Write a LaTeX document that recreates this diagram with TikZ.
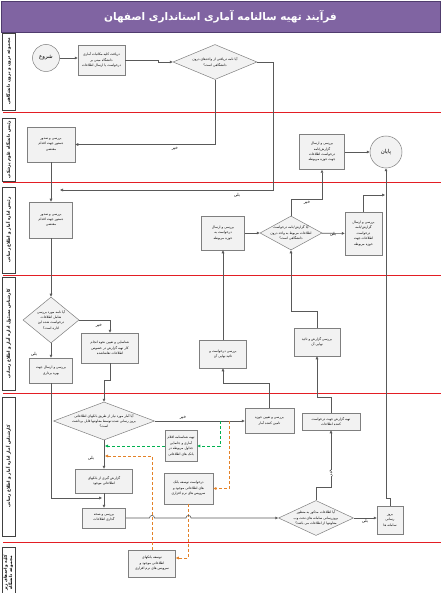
\documentclass[tikz,border=0pt]{standalone}
\usepackage{fontspec}
\newfontfamily\arabicfont[Script=Arabic]{DejaVu Sans}
\TeXXeTstate=1
\usetikzlibrary{arrows.meta,shapes.geometric,shadows,calc}
\newcommand\fatxt[1]{{\arabicfont\beginR #1\endR}}
\newcommand\boxfont{\fontsize{3.3}{5.4}\selectfont}
\newcommand\lblfont{\fontsize{4.2}{5}\selectfont}
\newcommand\lanefont{\fontsize{4.2}{5.2}\selectfont\bfseries}
\definecolor{titlepurple}{RGB}{128,100,162}
\definecolor{titleborder}{RGB}{80,60,110}
\definecolor{lanered}{RGB}{227,30,36}
\definecolor{linegray}{RGB}{89,89,89}
\definecolor{boxgray}{RGB}{127,127,127}
\definecolor{boxfill}{RGB}{242,242,242}
\definecolor{dashgreen}{RGB}{0,176,80}
\definecolor{dashorange}{RGB}{228,130,40}
\begin{document}
\begin{tikzpicture}[x=1pt,y=-1pt,
  procbox/.style 2 args={rectangle, draw=boxgray, fill=boxfill, line width=0.5pt,
     minimum width=#1pt, minimum height=#2pt, inner sep=0.5pt, align=center, font=\boxfont,
     drop shadow={shadow xshift=0.6pt,shadow yshift=-0.6pt,opacity=0.25}},
  decbox/.style 2 args={diamond, draw=boxgray, fill=boxfill, line width=0.5pt,
     minimum width=#1pt, minimum height=#2pt, inner sep=0pt},
  dectext/.style={align=center, font=\boxfont, inner sep=0pt},
  startend/.style={circle, draw=boxgray, fill=boxfill, line width=0.5pt, inner sep=0pt,
     font=\fontsize{5.5}{6}\selectfont},
  lanelab/.style={rectangle, draw=black!75, fill=white, line width=0.5pt, rotate=90,
     minimum height=13pt, inner sep=0pt, align=center, font=\lanefont},
  laneline/.style={draw=lanered, line width=1pt},
  flow/.style={draw=linegray, line width=0.6pt, -{Triangle[length=3pt,width=2.6pt]}},
  plainflow/.style={draw=linegray, line width=0.6pt},
  gflow/.style={draw=dashgreen, line width=0.7pt, dash pattern=on 3pt off 2pt,
     -{Triangle[length=3pt,width=2.6pt]}},
  oflow/.style={draw=dashorange, line width=0.7pt, dash pattern=on 3pt off 2pt,
     -{Triangle[length=3pt,width=2.6pt]}},
  lbl/.style={font=\lblfont, inner sep=0.3pt}
]
\useasboundingbox (0,0) rectangle (441,593);
\fill[white] (0,0) rectangle (441,593);

% title
\node[rectangle, fill=titlepurple, draw=titleborder, line width=0.8pt,
      minimum width=439pt, minimum height=31pt, inner sep=0pt,
      text=white, font=\fontsize{10.5}{12}\selectfont\bfseries] (title) at (220.5,16.5)
      {\fatxt{فرآیند تهیه سالنامه آماری استانداری اصفهان}};

% lane separators
\draw[laneline] (3,113) -- (441,113);
\draw[laneline] (3,183) -- (441,183);
\draw[laneline] (3,275) -- (441,275);
\draw[laneline] (3,393) -- (441,393);
\draw[laneline] (3,542) -- (441,542);

% lane labels
\node[lanelab, minimum width=77pt] (l1) at (8.5,71.5) {\fatxt{مجموعه درون و برون دانشگاهی}};
\node[lanelab, minimum width=63pt] (l2) at (8.5,149.5) {\fatxt{رئیس دانشگاه علوم پزشکی}};
\node[lanelab, minimum width=86pt] (l3) at (8.5,230) {\fatxt{رئیس اداره آمار و اطلاع رسانی}};
\node[lanelab, minimum width=113pt] (l4) at (8.5,333.5) {\fatxt{کارشناس مسئول اداره آمار و اطلاع رسانی}};
\node[lanelab, minimum width=139pt] (l5) at (8.5,466.5) {\fatxt{کارشناس آمار اداره آمار و اطلاع رسانی}};
\node[lanelab, minimum width=52pt] (l6) at (8.5,573) {\fatxt{کلیه واحدهای زیر}\\\fatxt{مجموعه دانشگاه}};

% lane 1
\node[startend, minimum size=27pt] (start) at (46,58) {\fatxt{شروع}};
\node[procbox={47}{30}] (b1) at (101.5,60) {\fatxt{دریافت کلیه مکاتبات آماری}\\\fatxt{دانشگاه مبنی بر}\\\fatxt{درخواست یا ارسال اطلاعات}};
\node[decbox={84}{35}] (d1) at (215,62) {};
\node[dectext] (d1t) at (d1) {\fatxt{آیا نامه دریافتی از واحدهای درون}\\\fatxt{دانشگاهی است؟}};

% lane 2
\node[procbox={48}{35}] (b2) at (51,144.5) {\fatxt{بررسی و صدور}\\\fatxt{دستور جهت اقدام}\\\fatxt{مقتضی}};
\node[procbox={45}{35}] (b3) at (322,152) {\fatxt{بررسی و ارسال}\\\fatxt{گزارش/نامه}\\\fatxt{درخواست اطلاعات}\\\fatxt{جهت حوزه مربوطه}};
\node[startend, minimum size=32pt] (end) at (386,152) {\fatxt{پایان}};

% lane 3
\node[procbox={43}{36}] (b4) at (51,220) {\fatxt{بررسی و صدور}\\\fatxt{دستور جهت اقدام}\\\fatxt{مقتضی}};
\node[procbox={43}{34}] (b5) at (223,233) {\fatxt{بررسی و ارسال}\\\fatxt{درخواست به}\\\fatxt{حوزه مربوطه}};
\node[decbox={62}{34}] (d2) at (291,233) {};
\node[dectext] (d2t) at (d2) {\fatxt{آیا گزارش/نامه درخواست}\\\fatxt{اطلاعات مربوط به واحد درون}\\\fatxt{دانشگاهی است؟}};
\node[procbox={37}{43}] (b6) at (363.5,233.5) {\fatxt{بررسی و ارسال}\\\fatxt{گزارش/نامه}\\\fatxt{درخواست}\\\fatxt{اطلاعات جهت}\\\fatxt{حوزه مربوطه}};

% lane 4
\node[decbox={56}{46}] (d3) at (51,320) {};
\node[dectext] (d3t) at (d3) {\fatxt{آیا نامه مورد بررسی}\\\fatxt{شامل اطلاعات}\\\fatxt{درخواست شده این}\\\fatxt{اداره است؟}};
\node[procbox={43}{25}] (b7) at (51,370.5) {\fatxt{بررسی و ارسال جهت}\\\fatxt{بهره برداری}};
\node[procbox={57}{30}] (b8) at (110,348) {\fatxt{شناسایی و تعیین نحوه انجام}\\\fatxt{کار تهیه گزارش در خصوص}\\\fatxt{اطلاعات تقاضاشده}};
\node[procbox={47}{28}] (b9) at (223,354) {\fatxt{بررسی درخواست و}\\\fatxt{تائید نهایی آن}};
\node[procbox={46}{28}] (b10) at (317,342) {\fatxt{بررسی گزارش و تائید}\\\fatxt{نهایی آن}};

% lane 5
\node[decbox={101}{38}] (d4) at (104,421) {};
\node[dectext] (d4t) at (d4) {\fatxt{آیا آمار مورد نیاز از طریق بانکهای اطلاعاتی}\\\fatxt{بروز رسانی شده توسط معاونتها قابل برداشت}\\\fatxt{است؟}};
\node[procbox={49}{25}] (b11) at (269.5,421) {\fatxt{بررسی و تعیین حوزه}\\\fatxt{تامین کننده آمار}};
\node[procbox={58}{17}] (b12) at (331,421.5) {\fatxt{تهیه گزارش جهت درخواست}\\\fatxt{کننده اطلاعات}};
\node[procbox={32}{31}] (b13) at (181,446) {\fatxt{تهیه شناسنامه اقلام}\\\fatxt{آماری و جانمایی}\\\fatxt{جداول مربوطه در}\\\fatxt{بانک های اطلاعاتی}};
\node[procbox={57}{24}] (b14) at (104,481) {\fatxt{گزارش گیری از بانکهای}\\\fatxt{اطلاعاتی موجود}};
\node[procbox={49}{31}] (b15) at (188.5,488.5) {\fatxt{درخواست توسعه بانک}\\\fatxt{های اطلاعاتی موجود و}\\\fatxt{سرویس های نرم افزاری}};
\node[procbox={43}{20}] (b16) at (104,518) {\fatxt{بررسی و صحه}\\\fatxt{گذاری اطلاعات}};
\node[decbox={75}{35}] (d5) at (316,518) {};
\node[dectext] (d5t) at (d5) {\fatxt{آیا اطلاعات مذکور به منظور}\\\fatxt{بروزرسانی سامانه های تحت وب}\\\fatxt{معاونتها از اطلاعات می باشد؟}};
\node[procbox={26}{28}] (b17) at (390,520) {\fatxt{بروز}\\\fatxt{رسانی}\\\fatxt{سامانه ها}};

% lane 6
\node[procbox={47}{27}] (b18) at (152,563.5) {\fatxt{توسعه بانکهای}\\\fatxt{اطلاعاتی موجود و}\\\fatxt{سرویس های نرم افزاری}};

% helper coordinates
\coordinate (c1) at (60,190);
\coordinate (j1) at (102,498);
\coordinate (e1) at (385,195);
\coordinate (g0) at (220,421);
\coordinate (g1) at (105,446);
\coordinate (o0) at (229,421);
\coordinate (o1) at (0,558);
\coordinate (o3) at (105,456);

% connectors
\draw[flow] (start.east) -- (start.east -| b1.west);
\draw[flow] (b1.east) -- ++(33,0) |- (d1.west);
\draw[flow] (d1.south) |- (b2.east);
\node[lbl] (n1) at (175,149) {\fatxt{خیر}};
\draw[flow] (d1.east) -- (273,62) -- (273,190) -- (c1);
\node[lbl] (y1) at (237,195) {\fatxt{بلی}};
\draw[flow] (b2) -- (b4);
\draw[flow] (b4) -- (d3);
\draw[flow] (d3) -- (b7);
\node[lbl] (y2) at (34,354) {\fatxt{بلی}};
\draw[flow] (d3.east) -| (b8.north);
\node[lbl] (n2) at (99,325.5) {\fatxt{خیر}};
\draw[flow] (b8.south) -- ++(0,17) -| (d4.north);
\draw[flow] (b7.south) |- (j1);
\draw[flow] (d4) -- (b14);
\node[lbl] (y3) at (91,458) {\fatxt{بلی}};
\draw[flow] (b14) -- (b16);
\draw[flow] (d4.east) -- (b11.west);
\node[lbl] (n3) at (183,418) {\fatxt{خیر}};
\draw[gflow] (g0) |- (b13.east);
\draw[gflow] (b13.west) -- (g1);
\draw[oflow] (o0) |- (b15.east);
\draw[oflow] (b15.south) -- (b15.south |- o1) -- (b18.east |- o1);
\draw[oflow] (b18.north) |- (o3);
\draw[flow] (b16.east) -- (149.5,518) .. controls (149.5,514.6) and (154.5,514.6) .. (154.5,518)
   -- (186,518) .. controls (186,514.6) and (191,514.6) .. (191,518) -- (d5.west);
\draw[flow] (d5.east) -- (b17.west |- d5.east);
\node[lbl] (y4) at (365,521) {\fatxt{بلی}};
\draw[flow] (b17.north) -- ++(0,-7.5) -| (end.south);
\draw[flow] (d5.north) -- ++(0,-13) -| (b12.south);
\node[lbl, fill=white, rotate=90] (n4) at (331,473) {\fatxt{خیر}};
\draw[flow] (b12.north) -- ++(0,-15) -| (b10.south);
\draw[flow] (b11.north) -- ++(0,-25) -| (b9.south);
\draw[flow] (b9) -- (b5);
\draw[flow] (b10.north) -- ++(0,-16) -| (d2.south);
\draw[flow] (b5) -- (d2);
\draw[flow] (d2.north) -- ++(0,-16) -| (b3.south);
\node[lbl] (n5) at (307,203) {\fatxt{خیر}};
\draw[flow] (d2) -- (b6);
\node[lbl] (y5) at (333,234) {\fatxt{بلی}};
\draw[flow] (b6.north) |- (e1);
\draw[flow] (b3) -- (end);
\end{tikzpicture}
\end{document}
